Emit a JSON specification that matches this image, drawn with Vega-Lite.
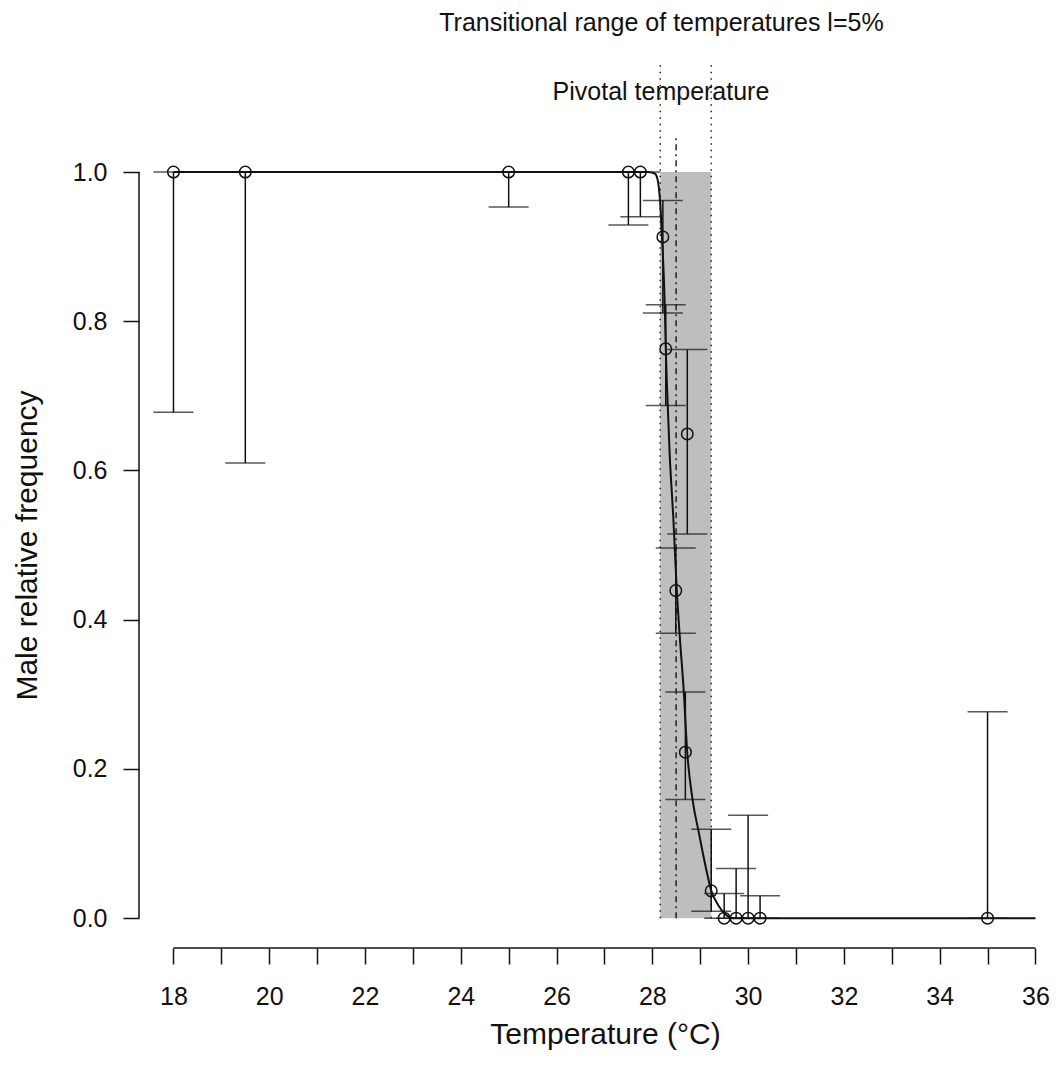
{
  "$schema": "https://vega.github.io/schema/vega-lite/v6.json",
  "width": 906,
  "height": 948,
  "autosize": {"type": "none"},
  "padding": {"left": 139, "top": 0, "right": 11, "bottom": 125},
  "background": "white",
  "config": {
    "view": {"stroke": null},
    "font": "Liberation Sans",
    "axis": {"grid": false, "domain": false, "tickColor": "#111", "tickWidth": 1.5, "tickSize": 16, "labelColor": "#111", "titleColor": "#111", "labelFont": "Liberation Sans", "titleFont": "Liberation Sans", "labelFontSize": 25, "titleFontSize": 30, "titleFontWeight": "normal"}
  },
  "datasets": {
    "obs": [
      {"t": 18.0, "p": 1.0, "lo": 0.678, "hi": 1.0},
      {"t": 19.5, "p": 1.0, "lo": 0.610, "hi": 1.0},
      {"t": 25.0, "p": 1.0, "lo": 0.953, "hi": 1.0},
      {"t": 27.5, "p": 1.0, "lo": 0.929, "hi": 1.0},
      {"t": 27.75, "p": 1.0, "lo": 0.940, "hi": 1.0},
      {"t": 28.22, "p": 0.913, "lo": 0.811, "hi": 0.962},
      {"t": 28.28, "p": 0.763, "lo": 0.687, "hi": 0.822},
      {"t": 28.49, "p": 0.439, "lo": 0.382, "hi": 0.496},
      {"t": 28.69, "p": 0.2225, "lo": 0.159, "hi": 0.303},
      {"t": 28.73, "p": 0.649, "lo": 0.515, "hi": 0.762},
      {"t": 29.23, "p": 0.0366, "lo": 0.0094, "hi": 0.119},
      {"t": 29.5, "p": 0.0, "lo": 0.0, "hi": 0.033},
      {"t": 29.75, "p": 0.0, "lo": 0.0, "hi": 0.0665},
      {"t": 30.0, "p": 0.0, "lo": 0.0, "hi": 0.138},
      {"t": 30.25, "p": 0.0, "lo": 0.0, "hi": 0.030},
      {"t": 35.0, "p": 0.0, "lo": 0.0, "hi": 0.2765}
    ],
    "curve": [
      {"t": 18.0, "p": 1.0},
      {"t": 27.9, "p": 1.0},
      {"t": 28.05, "p": 0.998},
      {"t": 28.11, "p": 0.99},
      {"t": 28.16, "p": 0.962},
      {"t": 28.2, "p": 0.915},
      {"t": 28.26, "p": 0.82},
      {"t": 28.28, "p": 0.765},
      {"t": 28.32, "p": 0.69},
      {"t": 28.36, "p": 0.625},
      {"t": 28.44, "p": 0.534},
      {"t": 28.51, "p": 0.44},
      {"t": 28.57, "p": 0.38},
      {"t": 28.66, "p": 0.30},
      {"t": 28.72, "p": 0.23},
      {"t": 28.84, "p": 0.159},
      {"t": 28.97, "p": 0.115},
      {"t": 29.12, "p": 0.067},
      {"t": 29.23, "p": 0.037},
      {"t": 29.37, "p": 0.018},
      {"t": 29.53, "p": 0.005},
      {"t": 29.67, "p": 0.0},
      {"t": 36.0, "p": 0.0}
    ],
    "range": [
      {"lower": 28.165, "upper": 29.23, "pivotal": 28.497}
    ],
    "one": [{}]
  },
  "layer": [
    {
      "data": {"name": "range"},
      "mark": {"type": "rect", "color": "#BEBEBE"},
      "encoding": {
        "x": {"field": "lower", "type": "quantitative", "title": "Temperature (°C)", "scale": {"domain": [17.28, 36.2], "nice": false, "zero": false},
          "axis": {"values": [18,19,20,21,22,23,24,25,26,27,28,29,30,31,32,33,34,35,36], "format": "d", "labelExpr": "datum.value % 2 === 0 ? datum.label : ''", "labelPadding": 20, "labelOverlap": false, "labelFlush": false, "title": "Temperature (°C)", "titleX": 466, "titleY": 95.5, "titleAlign": "center", "titleBaseline": "alphabetic", "titleAnchor": null}},
        "x2": {"field": "upper"},
        "y": {"datum": 0, "type": "quantitative", "title": "Male relative frequency", "scale": {"domain": [-0.04, 1.2306], "nice": false, "zero": false},
          "axis": {"values": [0, 0.2, 0.4, 0.6, 0.8, 1.0], "format": ".1f", "labelPadding": 16, "title": "Male relative frequency", "titleAngle": -90, "titleX": -103, "titleY": 545, "titleAlign": "center", "titleBaseline": "alphabetic", "titleAnchor": null}},
        "y2": {"datum": 1}
      }
    },
    {
      "data": {"name": "range"},
      "mark": {"type": "rule", "color": "#222", "strokeWidth": 1.5, "strokeDash": [1.5, 5]},
      "encoding": {
        "x": {"field": "lower", "type": "quantitative", "title": "Temperature (°C)"},
        "y": {"datum": 0, "type": "quantitative", "title": "Male relative frequency"},
        "y2": {"datum": 1.146}
      }
    },
    {
      "data": {"name": "range"},
      "mark": {"type": "rule", "color": "#222", "strokeWidth": 1.5, "strokeDash": [1.5, 5]},
      "encoding": {
        "x": {"field": "upper", "type": "quantitative", "title": "Temperature (°C)"},
        "y": {"datum": 0, "type": "quantitative", "title": "Male relative frequency"},
        "y2": {"datum": 1.146}
      }
    },
    {
      "data": {"name": "range"},
      "mark": {"type": "rule", "color": "#222", "strokeWidth": 1.5, "strokeDash": [6, 4, 2, 4]},
      "encoding": {
        "x": {"field": "pivotal", "type": "quantitative", "title": "Temperature (°C)"},
        "y": {"datum": 0, "type": "quantitative", "title": "Male relative frequency"},
        "y2": {"datum": 1.047}
      }
    },
    {
      "data": {"name": "curve"},
      "mark": {"type": "line", "color": "#111", "strokeWidth": 2, "interpolate": "monotone"},
      "encoding": {
        "x": {"field": "t", "type": "quantitative", "title": "Temperature (°C)"},
        "y": {"field": "p", "type": "quantitative", "title": "Male relative frequency"}
      }
    },
    {
      "data": {"name": "obs"},
      "mark": {"type": "rule", "color": "#111", "strokeWidth": 1.5},
      "encoding": {
        "x": {"field": "t", "type": "quantitative", "title": "Temperature (°C)"},
        "y": {"field": "lo", "type": "quantitative", "title": "Male relative frequency"},
        "y2": {"field": "hi"}
      }
    },
    {
      "data": {"name": "obs"},
      "mark": {"type": "tick", "orient": "horizontal", "size": 40, "thickness": 1.5, "color": "#111"},
      "encoding": {
        "x": {"field": "t", "type": "quantitative", "title": "Temperature (°C)"},
        "y": {"field": "lo", "type": "quantitative", "title": "Male relative frequency"}
      }
    },
    {
      "data": {"name": "obs"},
      "mark": {"type": "tick", "orient": "horizontal", "size": 40, "thickness": 1.5, "color": "#111"},
      "encoding": {
        "x": {"field": "t", "type": "quantitative", "title": "Temperature (°C)"},
        "y": {"field": "hi", "type": "quantitative", "title": "Male relative frequency"}
      }
    },
    {
      "data": {"name": "obs"},
      "mark": {"type": "point", "filled": false, "color": "#111", "strokeWidth": 1.5, "size": 133, "opacity": 1},
      "encoding": {
        "x": {"field": "t", "type": "quantitative", "title": "Temperature (°C)"},
        "y": {"field": "p", "type": "quantitative", "title": "Male relative frequency"}
      }
    },
    {
      "data": {"name": "one"},
      "mark": {"type": "rule", "color": "#111", "strokeWidth": 1.5},
      "encoding": {
        "x": {"datum": 18, "type": "quantitative", "title": "Temperature (°C)"},
        "x2": {"datum": 36},
        "y": {"datum": -0.04, "type": "quantitative", "title": "Male relative frequency"}
      }
    },
    {
      "data": {"name": "one"},
      "mark": {"type": "rule", "color": "#111", "strokeWidth": 1.5},
      "encoding": {
        "x": {"datum": 17.28, "type": "quantitative", "title": "Temperature (°C)"},
        "y": {"datum": 0, "type": "quantitative", "title": "Male relative frequency"},
        "y2": {"datum": 1}
      }
    },
    {
      "data": {"name": "one"},
      "mark": {"type": "text", "text": "Transitional range of temperatures l=5%", "fontSize": 25, "font": "Liberation Sans", "color": "#111", "align": "center", "baseline": "alphabetic"},
      "encoding": {
        "x": {"datum": 28.19, "type": "quantitative", "title": "Temperature (°C)"},
        "y": {"datum": 1.1897, "type": "quantitative", "title": "Male relative frequency"}
      }
    },
    {
      "data": {"name": "one"},
      "mark": {"type": "text", "text": "Pivotal temperature", "fontSize": 25, "font": "Liberation Sans", "color": "#111", "align": "center", "baseline": "alphabetic"},
      "encoding": {
        "x": {"datum": 28.18, "type": "quantitative", "title": "Temperature (°C)"},
        "y": {"datum": 1.0965, "type": "quantitative", "title": "Male relative frequency"}
      }
    }
  ]
}
